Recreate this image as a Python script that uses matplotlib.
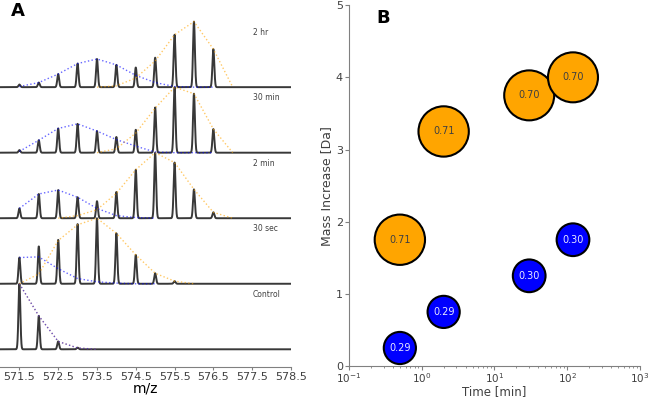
import numpy as np
import matplotlib.pyplot as plt

# ---- Panel A data: isotope peak heights (normalised) ----
mz = [571.5, 572.0, 572.5, 573.0, 573.5, 574.0, 574.5, 575.0, 575.5, 576.0, 576.5, 577.0]
nan = np.nan

labels = ["Control", "30 sec", "2 min", "30 min", "2 hr"]

obs_control = [1.00, 0.51, 0.12, 0.025, 0.0, 0.0, 0.0, 0.0, 0.0, 0.0, 0.0, 0.0]
env_control = [1.00, 0.51, 0.12, 0.02, 0.0, nan, nan, nan, nan, nan, nan, nan]

obs_30s = [0.40, 0.57, 0.67, 0.91, 1.00, 0.77, 0.44, 0.16, 0.04, 0.0, 0.0, 0.0]
blue_30s = [0.40, 0.41, 0.23, 0.08, 0.03, 0.01, 0.0, 0.0, nan, nan, nan, nan]
orange_30s = [0.0, 0.15, 0.66, 0.90, 1.00, 0.77, 0.44, 0.16, 0.04, 0.0, nan, nan]

obs_2m = [0.15, 0.37, 0.43, 0.32, 0.26, 0.40, 0.74, 1.00, 0.85, 0.44, 0.09, 0.0]
blue_2m = [0.15, 0.37, 0.43, 0.32, 0.15, 0.04, 0.01, 0.0, nan, nan, nan, nan]
orange_2m = [nan, nan, 0.0, 0.04, 0.13, 0.38, 0.74, 1.00, 0.85, 0.44, 0.09, 0.0]

obs_30m = [0.04, 0.19, 0.37, 0.44, 0.33, 0.24, 0.35, 0.69, 1.00, 0.90, 0.36, 0.0]
blue_30m = [0.02, 0.19, 0.37, 0.44, 0.33, 0.20, 0.10, 0.01, 0.0, 0.0, 0.0, nan]
orange_30m = [nan, nan, nan, nan, 0.0, 0.06, 0.30, 0.68, 1.00, 0.90, 0.36, 0.0]

obs_2h = [0.04, 0.07, 0.20, 0.36, 0.43, 0.34, 0.30, 0.45, 0.80, 1.00, 0.58, 0.0]
blue_2h = [0.01, 0.07, 0.20, 0.36, 0.43, 0.34, 0.18, 0.07, 0.01, 0.0, 0.0, nan]
orange_2h = [nan, nan, nan, nan, 0.0, 0.02, 0.14, 0.40, 0.80, 1.00, 0.58, 0.0]

observed = [obs_control, obs_30s, obs_2m, obs_30m, obs_2h]
blue_env = [env_control, blue_30s, blue_2m, blue_30m, blue_2h]
orange_env = [env_control, orange_30s, orange_2m, orange_30m, orange_2h]

# ---- Panel B data ----
times = [0.5, 2, 30, 120]
blue_mass = [0.25, 0.75, 1.25, 1.75]
blue_frac = [0.29, 0.29, 0.30, 0.30]
orange_mass = [1.75, 3.25, 3.75, 4.0]
orange_frac = [0.71, 0.71, 0.70, 0.70]

fig = plt.figure(figsize=(6.48, 3.97), dpi=100)

# ---------------- Panel A ----------------
axA = fig.add_axes([0.0, 0.0756, 0.449, 0.9244])
xf = np.linspace(571.0, 578.5, 4000)
sigma = 0.024
for off, (lab, obs, be, oe) in enumerate(zip(labels, observed, blue_env, orange_env)):
    y = np.zeros_like(xf)
    for m, h in zip(mz, obs):
        y += h * np.exp(-(xf - m) ** 2 / (2 * sigma ** 2))
    axA.plot(xf, y + off, color='0.22', lw=1.4, zorder=2)
    axA.plot(mz, np.array(oe) + off, ':', color='orange', lw=1.0, alpha=0.6, zorder=3)
    axA.plot(mz, np.array(be) + off, ':', color='blue', lw=1.0, alpha=0.6, zorder=3)
    axA.text(577.52, off + 0.84, lab, fontsize=5.5, color='0.25', va='center', ha='left')

axA.set_xlim(571.0, 578.5)
axA.set_ylim(-0.27, 5.33)
ticks = np.arange(571.5, 578.6, 1.0)
axA.set_xticks(ticks)
axA.set_xticklabels([f"{v:.1f}" for v in ticks], fontsize=8)
axA.set_yticks([])
for s in ['left', 'right', 'top']:
    axA.spines[s].set_visible(False)
axA.spines['bottom'].set_color('0.5')
axA.tick_params(axis='x', colors='0.5', labelcolor='0.25', length=2, pad=1.5)
axA.set_xlabel("m/z", fontsize=10, va='center')
axA.xaxis.set_label_coords(0.5, -0.058)
axA.text(0.062, 0.97, "A", transform=axA.transAxes, fontsize=13, fontweight='bold',
         va='center', ha='center')

# ---------------- Panel B ----------------
axB = fig.add_axes([0.5386, 0.078, 0.449, 0.909])
axB.scatter(times, orange_mass, s=np.array(orange_frac) * 1850,
            color='orange', edgecolor='black', linewidth=1.5, zorder=3)
axB.scatter(times, blue_mass, s=np.array(blue_frac) * 1850,
            color='blue', edgecolor='black', linewidth=1.5, zorder=3)
for t, m, f in zip(times, orange_mass, orange_frac):
    axB.text(t, m, f"{f:.2f}", fontsize=7, color='0.25', ha='center', va='center', zorder=4)
for t, m, f in zip(times, blue_mass, blue_frac):
    axB.text(t, m, f"{f:.2f}", fontsize=7, color='#e8e8ff', ha='center', va='center', zorder=4)

axB.set_xscale('log')
axB.set_xlim(0.1, 1000)
axB.set_ylim(0, 5)
axB.set_yticks([0, 1, 2, 3, 4, 5])
for s in ['right', 'top']:
    axB.spines[s].set_visible(False)
for s in ['left', 'bottom']:
    axB.spines[s].set_color('0.5')
axB.tick_params(axis='both', which='both', colors='0.5', labelcolor='0.25', labelsize=8, pad=1.5)
axB.tick_params(axis='x', which='both', pad=0.5, labelsize=7.5)
axB.tick_params(axis='both', which='major', length=3)
axB.tick_params(axis='both', which='minor', length=1.5)
axB.set_xlabel("Time [min]", fontsize=8.5, color='0.25', va='center')
axB.xaxis.set_label_coords(0.5, -0.072)
axB.set_ylabel("Mass Increase [Da]", fontsize=9, color='0.25', labelpad=2)
axB.text(0.117, 0.965, "B", transform=axB.transAxes, fontsize=13, fontweight='bold',
         va='center', ha='center')

fig.savefig("out.png", dpi=100)
